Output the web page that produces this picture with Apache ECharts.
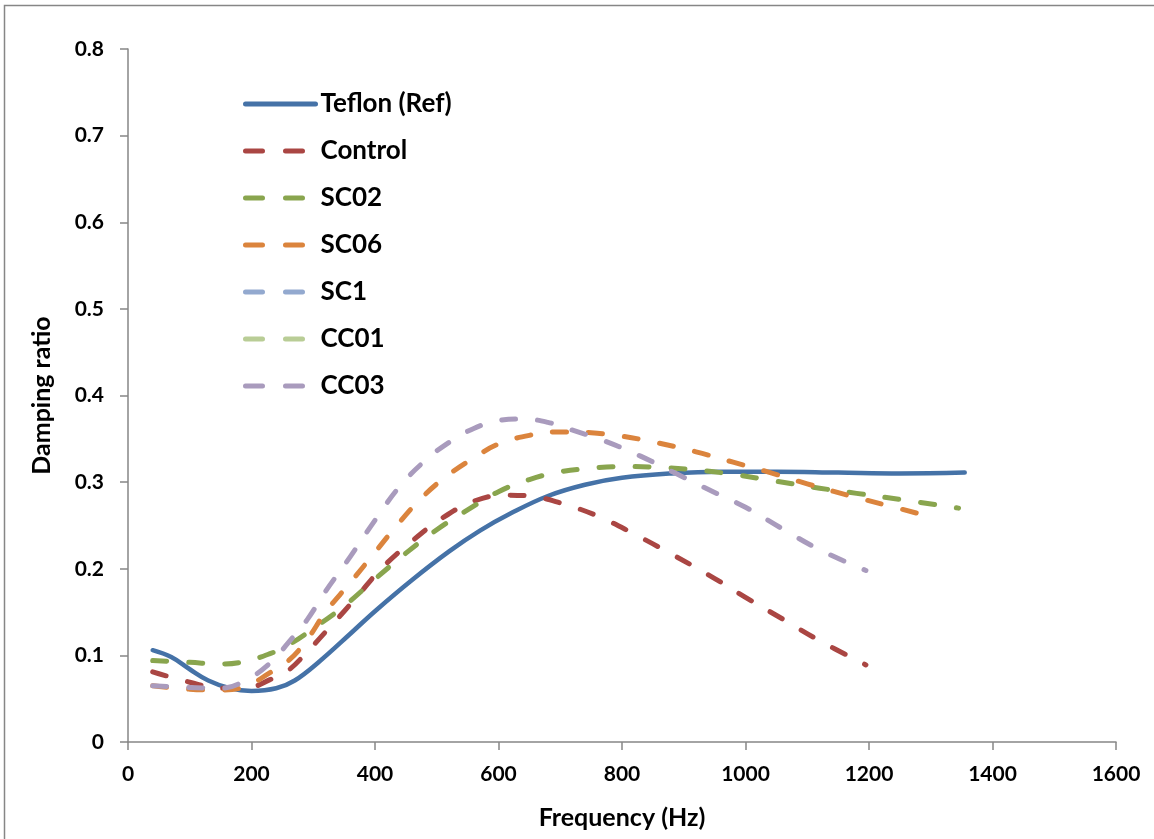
<!DOCTYPE html>
<html>
<head>
<meta charset="utf-8">
<script src="https://cdn.jsdelivr.net/npm/echarts@6/dist/echarts.min.js"></script>
<style>
  html, body { margin: 0; padding: 0; background: #ffffff; }
  #chart { width: 1154px; height: 839px; }
</style>
</head>
<body>
<div id="chart"></div>
<script>
// Damping ratio versus frequency for the reference and coated samples
const seriesNames = ['Teflon (Ref)', 'Control', 'SC02', 'SC06', 'SC1', 'CC01', 'CC03'];

const teflonHz  = [40, 70, 100, 130, 165, 200, 240, 270, 310, 360, 400, 460, 520, 570, 620, 680, 740, 800, 880, 960, 1050, 1150, 1250, 1355];
const teflonVal = [0.106, 0.098, 0.084, 0.071, 0.062, 0.059, 0.062, 0.071, 0.093, 0.125, 0.151, 0.187, 0.220, 0.244, 0.264, 0.284, 0.297, 0.305, 0.310, 0.312, 0.312, 0.311, 0.310, 0.311];

const controlHz  = [40, 100, 150, 190, 230, 260, 290, 330, 370, 410, 460, 510, 560, 610, 650, 700, 760, 820, 880, 940, 1000, 1060, 1120, 1195];
const controlVal = [0.081, 0.069, 0.062, 0.062, 0.072, 0.083, 0.104, 0.135, 0.167, 0.200, 0.232, 0.259, 0.278, 0.285, 0.284, 0.276, 0.261, 0.240, 0.217, 0.193, 0.167, 0.142, 0.117, 0.089];

const sc02Hz  = [40, 100, 150, 190, 230, 260, 300, 350, 400, 450, 500, 550, 600, 650, 700, 750, 800, 860, 920, 980, 1050, 1120, 1180, 1250, 1345];
const sc02Val = [0.094, 0.092, 0.090, 0.093, 0.102, 0.112, 0.131, 0.157, 0.188, 0.218, 0.245, 0.268, 0.289, 0.303, 0.312, 0.316, 0.318, 0.317, 0.314, 0.309, 0.301, 0.293, 0.287, 0.280, 0.270];

const sc06Hz  = [40, 100, 150, 190, 230, 260, 290, 320, 360, 400, 440, 480, 520, 560, 600, 650, 700, 750, 800, 860, 920, 980, 1040, 1100, 1165, 1230, 1300];
const sc06Val = [0.065, 0.061, 0.060, 0.064, 0.080, 0.094, 0.118, 0.150, 0.184, 0.219, 0.254, 0.285, 0.309, 0.328, 0.344, 0.354, 0.358, 0.357, 0.353, 0.345, 0.335, 0.323, 0.311, 0.298, 0.285, 0.273, 0.260];

const sc1Hz  = [];
const sc1Val = [];

const cc01Hz  = [];
const cc01Val = [];

const cc03Hz  = [40, 100, 150, 190, 230, 260, 290, 320, 360, 400, 440, 480, 520, 560, 600, 640, 680, 720, 770, 830, 890, 950, 1000, 1060, 1120, 1195];
const cc03Val = [0.065, 0.063, 0.062, 0.071, 0.091, 0.115, 0.141, 0.174, 0.214, 0.256, 0.295, 0.324, 0.346, 0.362, 0.371, 0.373, 0.369, 0.360, 0.348, 0.330, 0.309, 0.288, 0.271, 0.246, 0.222, 0.198];

const xTicks = [0, 200, 400, 600, 800, 1000, 1200, 1400, 1600];
const yTicks = [0, 0.1, 0.2, 0.3, 0.4, 0.5, 0.6, 0.7, 0.8];

const colors = ['#4572A7', '#AA4643', '#89A54E', '#DB843D', '#93A9CF', '#B9CD96', '#A99BBD'];

const hzArrays  = [teflonHz, controlHz, sc02Hz, sc06Hz, sc1Hz, cc01Hz, cc03Hz];
const valArrays = [teflonVal, controlVal, sc02Val, sc06Val, sc1Val, cc01Val, cc03Val];

const FONT = 'Lato, "Liberation Sans", sans-serif';
const AXIS_GREY = '#868686';
const DASH = [14, 22];

function pairs(hz, val) {
  return hz.map((h, i) => [h, val[i]]);
}

function lineStyleFor(i) {
  return {
    color: colors[i],
    width: i === 0 ? 4.5 : 5,
    type: i === 0 ? 'solid' : DASH,
    cap: 'round',
    join: 'round'
  };
}

const series = seriesNames.map((name, i) => ({
  name: name,
  type: 'line',
  data: pairs(hzArrays[i], valArrays[i]),
  smooth: 0.4,
  showSymbol: false,
  symbol: 'none',
  z: i === 0 ? 2 : 3 + i,
  lineStyle: lineStyleFor(i),
  itemStyle: { color: colors[i] },
  emphasis: { disabled: true }
}));

const legendData = seriesNames.map((name, i) => ({
  name: name,
  lineStyle: i === 0
    ? { color: colors[i], width: 5, type: 'solid', cap: 'round' }
    : { color: colors[i], width: 5, type: [17, 23], cap: 'round' },
  itemStyle: { opacity: 0 }
}));

const chart = echarts.init(document.getElementById('chart'), null, { renderer: 'canvas' });

chart.setOption({
  animation: false,
  backgroundColor: '#ffffff',
  graphic: [{
    type: 'rect',
    shape: { x: 4.5, y: 5.5, width: 1200, height: 900 },
    style: { fill: 'none', stroke: AXIS_GREY, lineWidth: 1.5 },
    silent: true
  }],
  grid: { left: 128, right: 38, top: 49, bottom: 97, containLabel: false },
  legend: {
    orient: 'vertical',
    left: 238,
    top: 85,
    itemWidth: 70,
    itemHeight: 14,
    itemGap: 19,
    data: legendData,
    selectedMode: false,
    itemStyle: { opacity: 0 },
    textStyle: {
      fontFamily: FONT,
      fontWeight: 'bold',
      fontSize: 26,
      lineHeight: 28,
      color: '#000000'
    }
  },
  xAxis: {
    type: 'value',
    min: xTicks[0],
    max: xTicks[xTicks.length - 1],
    interval: xTicks[1] - xTicks[0],
    name: 'Frequency (Hz)',
    nameLocation: 'middle',
    nameGap: 63,
    nameTextStyle: { fontFamily: FONT, fontWeight: 'bold', fontSize: 25, color: '#000000' },
    axisLine: { show: true, lineStyle: { color: AXIS_GREY, width: 1.5 } },
    axisTick: { show: true, length: 8, lineStyle: { color: AXIS_GREY, width: 1.5 } },
    axisLabel: {
      margin: 22, fontFamily: FONT, fontWeight: 'bold', fontSize: 21, color: '#000000',
      formatter: v => String(v)
    },
    splitLine: { show: false }
  },
  yAxis: {
    type: 'value',
    min: yTicks[0],
    max: yTicks[yTicks.length - 1],
    interval: 0.1,
    name: 'Damping ratio',
    nameLocation: 'middle',
    nameGap: 74,
    nameTextStyle: { fontFamily: FONT, fontWeight: 'bold', fontSize: 25, color: '#000000' },
    axisLine: { show: true, lineStyle: { color: AXIS_GREY, width: 1.5 } },
    axisTick: { show: true, length: 8, lineStyle: { color: AXIS_GREY, width: 1.5 } },
    axisLabel: {
      margin: 24,
      fontFamily: FONT, fontWeight: 'bold', fontSize: 21, color: '#000000',
      formatter: v => (v === 0 ? '0' : v.toFixed(1))
    },
    splitLine: { show: false }
  },
  series: series
});
</script>
</body>
</html>
